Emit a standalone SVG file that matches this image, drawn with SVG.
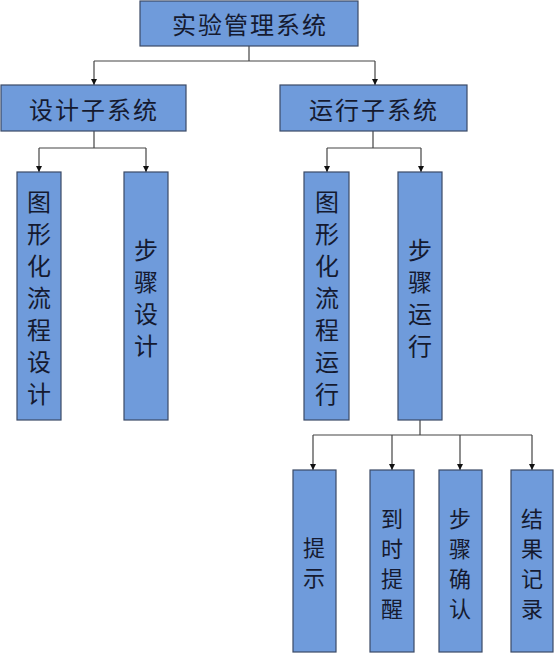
<svg xmlns="http://www.w3.org/2000/svg" width="554" height="654" viewBox="0 0 554 654">
<defs>
<marker id="ah" viewBox="0 0 8 8" refX="8" refY="4" markerWidth="6" markerHeight="6" markerUnits="userSpaceOnUse" orient="auto">
<path d="M0,0 L8,4 L0,8 z" fill="#111"/>
</marker>
<style>
.box{fill:#6f9bdb;stroke:#3b4a66;stroke-width:1.2}
.t{font-family:"Noto Sans CJK SC","Noto Sans",sans-serif;font-size:24px;fill:#151a30;text-anchor:middle;dominant-baseline:central}
.s{font-size:22px}
.h{letter-spacing:2px}
.c{fill:none;stroke:#444;stroke-width:1.2}
.a{marker-end:url(#ah)}
</style>
</defs>
<rect width="554" height="654" fill="#fff"/>
<g id="connectors">
<path class="c" d="M249,46 V61 M94,61 H375"/>
<path class="c a" d="M94,61 V85"/>
<path class="c a" d="M375,61 V85"/>
<path class="c" d="M94,131 V148 M39,148 H146"/>
<path class="c a" d="M39,148 V172"/>
<path class="c a" d="M146,148 V172"/>
<path class="c" d="M373,131 V148 M327,148 H421"/>
<path class="c a" d="M327,148 V172"/>
<path class="c a" d="M421,148 V172"/>
<path class="c" d="M420,420 V435 M313,435 H532"/>
<path class="c a" d="M313,435 V470"/>
<path class="c a" d="M392,435 V470"/>
<path class="c a" d="M460,435 V470"/>
<path class="c a" d="M532,435 V470"/>
</g>
<g id="root">
<rect class="box" x="140" y="1" width="218" height="45"/>
<text class="t h" x="250" y="23">实验管理系统</text>
</g>
<g id="design">
<rect class="box" x="1" y="85" width="185" height="46"/>
<text class="t h" x="94" y="108">设计子系统</text>
</g>
<g id="run">
<rect class="box" x="280" y="85" width="187" height="46"/>
<text class="t h" x="374" y="108">运行子系统</text>
</g>
<g id="graph-design">
<rect class="box" x="17" y="172" width="44" height="248"/>
<text class="t" x="39"><tspan x="39" y="200">图</tspan><tspan x="39" y="232">形</tspan><tspan x="39" y="264">化</tspan><tspan x="39" y="296">流</tspan><tspan x="39" y="328">程</tspan><tspan x="39" y="360">设</tspan><tspan x="39" y="392">计</tspan></text>
</g>
<g id="step-design">
<rect class="box" x="124" y="172" width="44" height="248"/>
<text class="t" x="146"><tspan x="146" y="248">步</tspan><tspan x="146" y="280">骤</tspan><tspan x="146" y="312">设</tspan><tspan x="146" y="344">计</tspan></text>
</g>
<g id="graph-run">
<rect class="box" x="304" y="172" width="45" height="248"/>
<text class="t" x="327"><tspan x="327" y="200">图</tspan><tspan x="327" y="232">形</tspan><tspan x="327" y="264">化</tspan><tspan x="327" y="296">流</tspan><tspan x="327" y="328">程</tspan><tspan x="327" y="360">运</tspan><tspan x="327" y="392">行</tspan></text>
</g>
<g id="step-run">
<rect class="box" x="398" y="172" width="44" height="248"/>
<text class="t" x="420"><tspan x="420" y="248">步</tspan><tspan x="420" y="280">骤</tspan><tspan x="420" y="312">运</tspan><tspan x="420" y="344">行</tspan></text>
</g>
<g id="hint">
<rect class="box" x="293" y="470" width="43" height="182"/>
<text class="t s" x="314"><tspan x="314" y="546">提</tspan><tspan x="314" y="576">示</tspan></text>
</g>
<g id="remind">
<rect class="box" x="370" y="470" width="44" height="182"/>
<text class="t s" x="392"><tspan x="392" y="517">到</tspan><tspan x="392" y="547">时</tspan><tspan x="392" y="577">提</tspan><tspan x="392" y="607">醒</tspan></text>
</g>
<g id="confirm">
<rect class="box" x="439" y="470" width="43" height="182"/>
<text class="t s" x="460"><tspan x="460" y="517">步</tspan><tspan x="460" y="547">骤</tspan><tspan x="460" y="577">确</tspan><tspan x="460" y="607">认</tspan></text>
</g>
<g id="record">
<rect class="box" x="511" y="470" width="42" height="182"/>
<text class="t s" x="532"><tspan x="532" y="517">结</tspan><tspan x="532" y="547">果</tspan><tspan x="532" y="577">记</tspan><tspan x="532" y="607">录</tspan></text>
</g>
</svg>
